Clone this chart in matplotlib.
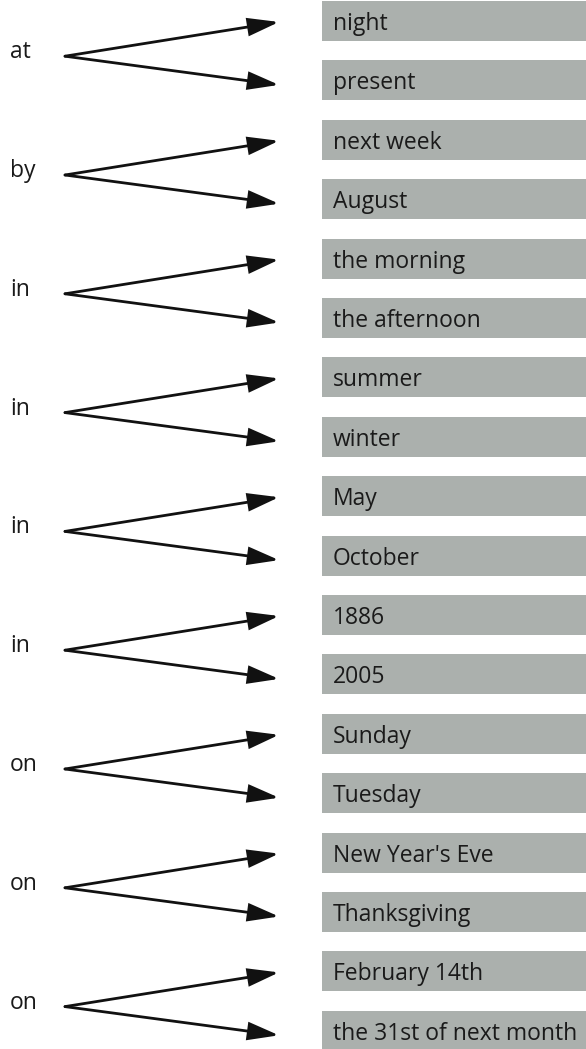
import matplotlib
matplotlib.use("Agg")
import matplotlib.pyplot as plt
from matplotlib.patches import Rectangle, FancyArrowPatch

prepositions = ["at", "by", "in", "in", "in", "in", "on", "on", "on"]
phrases = [
    ["night", "present"],
    ["next week", "August"],
    ["the morning", "the afternoon"],
    ["summer", "winter"],
    ["May", "October"],
    ["1886", "2005"],
    ["Sunday", "Tuesday"],
    ["New Year's Eve", "Thanksgiving"],
    ["February 14th", "the 31st of next month"],
]

W, H = 586, 1049
fig = plt.figure(figsize=(W / 100, H / 100), dpi=100)
ax = fig.add_axes([0, 0, 1, 1])
ax.set_xlim(0, W)
ax.set_ylim(H, 0)
ax.axis("off")

FONT = "Open Sans"
FS = 16.5
step = 59.4
y0 = 21.0
box_left, box_h = 322, 40
vx, tipx = 65, 279
box_color = "#abb0ad"

for i, (prep, pair) in enumerate(zip(prepositions, phrases)):
    yc1 = y0 + step * (2 * i)
    yc2 = y0 + step * (2 * i + 1)
    mid = (yc1 + yc2) / 2
    ax.text(10, mid + 7.5, prep, fontsize=FS, family=FONT, color="#1a1a1a",
            va="baseline", ha="left")
    for yc, dy, txt in zip((yc1, yc2), (1.0, 4.5), pair):
        ax.add_patch(Rectangle((box_left, yc - box_h / 2), W - box_left + 5, box_h,
                               facecolor=box_color, edgecolor="none"))
        ax.text(box_left + 11, yc + 9, txt, fontsize=FS, family=FONT,
                color="#1a1a1a", va="baseline", ha="left")
        arr = FancyArrowPatch((vx, mid + 5.5), (tipx, yc + dy),
                              arrowstyle="-|>,head_length=1.55,head_width=0.45",
                              mutation_scale=12, linewidth=2.0, color="#111111",
                              shrinkA=0, shrinkB=0, joinstyle="miter")
        ax.add_patch(arr)

fig.savefig("out.png", dpi=100)
